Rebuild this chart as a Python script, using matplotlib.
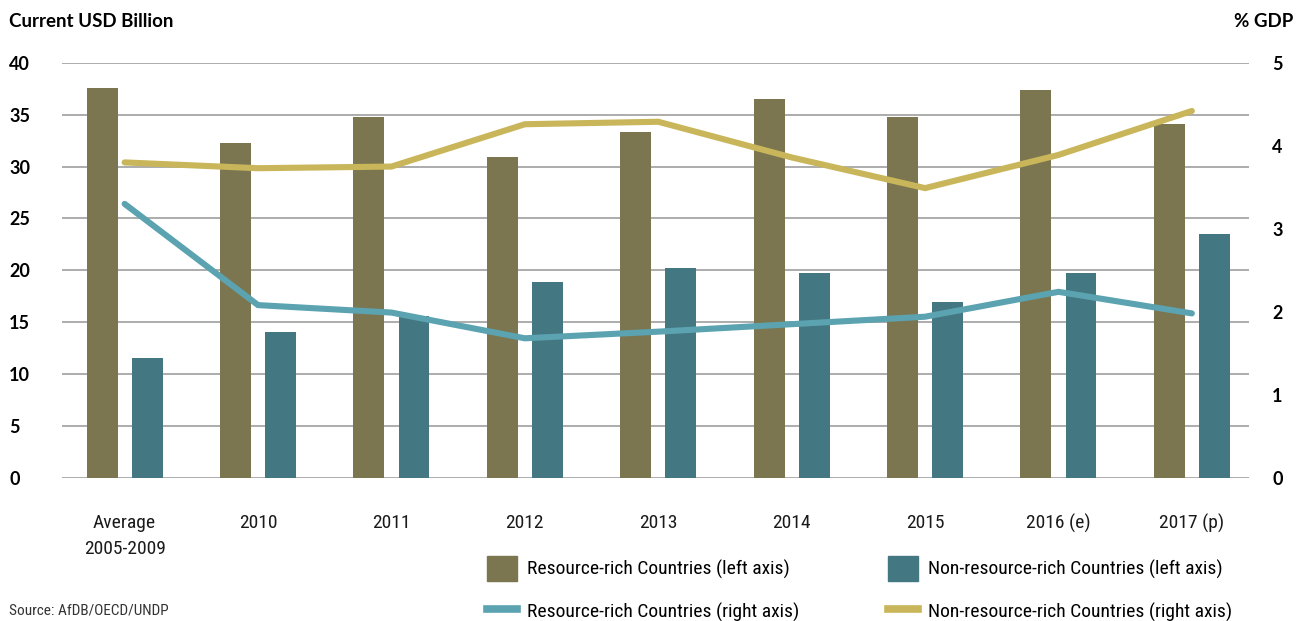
import matplotlib
matplotlib.use("Agg")
import matplotlib.pyplot as plt
import numpy as np
from matplotlib.patches import Patch
from matplotlib.lines import Line2D
from matplotlib import font_manager as fm

# data
categories = ['Average\n2005-2009', '2010', '2011', '2012', '2013',
              '2014', '2015', '2016 (e)', '2017 (p)']
rich_bars = [37.6, 32.3, 34.8, 30.9, 33.3, 36.5, 34.8, 37.4, 34.1]      # USD bn
nonrich_bars = [11.5, 14.0, 15.6, 18.9, 20.2, 19.7, 16.9, 19.7, 23.5]   # USD bn
rich_gdp = [3.30, 2.08, 1.99, 1.68, 1.76, 1.85, 1.94, 2.24, 1.98]       # % GDP
nonrich_gdp = [3.80, 3.73, 3.75, 4.26, 4.29, 3.86, 3.49, 3.89, 4.42]    # % GDP
left_ticks = [0, 5, 10, 15, 20, 25, 30, 35, 40]
right_ticks = [0, 1, 2, 3, 4, 5]

c_rich_bar = '#7b7650'
c_non_bar = '#437782'
c_rich_line = '#5ba3b0'
c_non_line = '#c9b65a'

# condensed font if one is installed
names = {f.name for f in fm.fontManager.ttflist}
cond = [n for n in ['Liberation Sans Narrow', 'DejaVu Sans Condensed',
                    'Roboto Condensed', 'Open Sans Condensed'] if n in names]
narrow = dict(fontfamily=cond[0]) if cond else dict(fontfamily='DejaVu Sans', fontstretch='condensed')
boldf = ['Lato', 'DejaVu Sans']

fig = plt.figure(figsize=(13.04, 6.21), dpi=100)
ax = fig.add_axes([0.0475, 0.2308, 0.9105, 0.668])

x = np.arange(len(categories))
w = 0.232
ax.bar(x - 0.169, rich_bars, w, color=c_rich_bar, zorder=2)
ax.bar(x + 0.169, nonrich_bars, w, color=c_non_bar, zorder=2)

ax.set_xlim(-0.47, 8.43)
ax.set_ylim(0, 40)
ax.set_yticks(left_ticks)
ax.yaxis.grid(True, color='#a6a6a6', lw=1.3)
ax.set_axisbelow(True)
for s in ax.spines.values():
    s.set_visible(False)
ax.tick_params(axis='y', length=0, pad=38)
ax.tick_params(axis='x', length=0, pad=26)
ax.set_yticklabels([str(t) for t in left_ticks], fontfamily=boldf,
                   fontweight='bold', fontsize=13, ha='left')
ax.set_xticks(x)
ax.set_xticklabels(categories, fontsize=14, linespacing=1.6,
                   color='#1a1a1a', **narrow)

ax2 = ax.twinx()
ax2.plot(x, rich_gdp, color=c_rich_line, lw=4.4, solid_capstyle='round',
         solid_joinstyle='miter')
ax2.plot(x, nonrich_gdp, color=c_non_line, lw=4.4, solid_capstyle='round',
         solid_joinstyle='miter')
ax2.set_ylim(0, 5)
ax2.set_yticks(right_ticks)
for s in ax2.spines.values():
    s.set_visible(False)
ax2.tick_params(axis='y', length=0, pad=16.5)
ax2.set_yticklabels([str(t) for t in right_ticks], fontfamily=boldf,
                    fontweight='bold', fontsize=13, ha='left')

fig.text(0.007, 0.966, 'Current USD Billion', fontfamily=boldf,
         fontweight='bold', fontsize=13.5, va='center', ha='left')
fig.text(0.992, 0.966, '% GDP', fontfamily=boldf, fontweight='bold',
         fontsize=13.5, va='center', ha='right')
fig.text(0.007, 0.017, 'Source: AfDB/OECD/UNDP', fontsize=11, va='center',
         ha='left', color='#333333', **narrow)

leg_prop = fm.FontProperties(size=14, family=narrow['fontfamily'],
                             stretch=narrow.get('fontstretch', 'normal'))
left_handles = [
    Patch(color=c_rich_bar, label='Resource-rich Countries (left axis)'),
    Line2D([], [], color=c_rich_line, lw=5.5,
           label='Resource-rich Countries (right axis)'),
]
right_handles = [
    Patch(color=c_non_bar, label='Non-resource-rich Countries (left axis)'),
    Line2D([], [], color=c_non_line, lw=5.5,
           label='Non-resource-rich Countries (right axis)'),
]
for hs, xa in [(left_handles, 0.3735), (right_handles, 0.681)]:
    fig.legend(handles=hs, loc='upper left', bbox_to_anchor=(xa, 0.104),
               frameon=False, prop=leg_prop, handlelength=1.55,
               handleheight=1.55, handletextpad=0.5, labelspacing=0.95,
               borderaxespad=0, borderpad=0)

fig.savefig('out.png', dpi=100)
